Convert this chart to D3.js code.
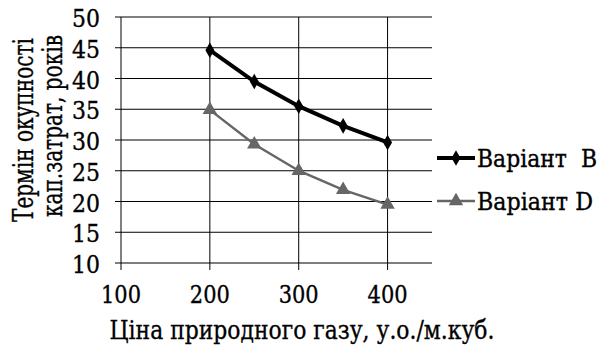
<!DOCTYPE html>
<html>
<head>
<meta charset="utf-8">
<script src="https://cdn.jsdelivr.net/npm/d3@7"></script>
<style>
  body { margin: 0; background: #fff; }
  text { stroke: #000; stroke-width: 0.35px; }
</style>
</head>
<body>
<svg width="598" height="347"></svg>
<script>
// gas price, y.o. per cubic metre
var prices = [200, 250, 300, 350, 400];
var variantB = [44.6, 39.5, 35.5, 32.3, 29.6];
var variantD = [34.9, 29.3, 25.0, 21.9, 19.5];
var xTicks = [100, 200, 300, 400];
var yTicks = [10, 15, 20, 25, 30, 35, 40, 45, 50];
var seriesNames = ["Варіант  B", "Варіант D"];

// DejaVu Serif is wider than the Times face of the original, so texts get squeezed
var svg = d3.select("svg")
    .attr("font-family", "'DejaVu Serif', serif");
var pLeft = 121, pRight = 432, pTop = 17, pBottom = 263;

var x = d3.scaleLinear().domain([100, 450]).range([pLeft, pRight]);
var y = d3.scaleLinear().domain([10, 50]).range([pBottom, pTop]);

// horizontal grid with little ticks on the left
svg.append("g").selectAll("line").data(yTicks).enter().append("line")
    .attr("x1", pLeft - 6).attr("x2", pRight)
    .attr("y1", function(d) { return y(d); })
    .attr("y2", function(d) { return y(d); })
    .style("stroke", "#000").style("stroke-width", 1);

// vertical grid, sticking out a bit below the axis
svg.append("g").selectAll("line").data(xTicks).enter().append("line")
    .attr("x1", function(d) { return x(d); })
    .attr("x2", function(d) { return x(d); })
    .attr("y1", pTop).attr("y2", pBottom + 7)
    .style("stroke", "#000").style("stroke-width", 1);

svg.append("g").selectAll("text").data(yTicks).enter().append("text")
    .attr("x", pLeft - 21).attr("y", function(d) { return y(d) + 10; })
    .attr("textLength", function(d) { return String(d).length * 14; })
    .attr("lengthAdjust", "spacingAndGlyphs")
    .style("text-anchor", "end").style("font-size", "25px")
    .text(function(d) { return d; });

svg.append("g").selectAll("text").data(xTicks).enter().append("text")
    .attr("x", function(d) { return x(d); }).attr("y", 303)
    .attr("textLength", 40)
    .attr("lengthAdjust", "spacingAndGlyphs")
    .style("text-anchor", "middle").style("font-size", "25px")
    .text(function(d) { return d; });

// axis titles
svg.append("text")
    .attr("transform", "translate(33,130) rotate(-90)")
    .attr("textLength", 184).attr("lengthAdjust", "spacingAndGlyphs")
    .style("text-anchor", "middle").style("font-size", "27px")
    .text("Термін окупності");
svg.append("text")
    .attr("transform", "translate(62,126) rotate(-90)")
    .attr("textLength", 182).attr("lengthAdjust", "spacingAndGlyphs")
    .style("text-anchor", "middle").style("font-size", "27px")
    .text("кап.затрат, років");
svg.append("text")
    .attr("x", 302).attr("y", 339)
    .attr("textLength", 385).attr("lengthAdjust", "spacingAndGlyphs")
    .style("text-anchor", "middle").style("font-size", "26px")
    .text("Ціна природного газу, у.о./м.куб.");

var line = d3.line()
    .x(function(d) { return x(d[0]); })
    .y(function(d) { return y(d[1]); });

var series = [
  { name: seriesNames[0], values: d3.zip(prices, variantB), color: "#000", width: 4,
    symbol: d3.symbolDiamond, size: 70, textW: 120 },
  { name: seriesNames[1], values: d3.zip(prices, variantD), color: "#666", width: 2.5,
    symbol: d3.symbolTriangle, size: 90, textW: 116 }
];

series.forEach(function(s, i) {
  svg.append("path")
      .attr("d", line(s.values))
      .style("fill", "none").style("stroke", s.color).style("stroke-width", s.width);
  svg.append("g").selectAll("path").data(s.values).enter().append("path")
      .attr("d", d3.symbol().type(s.symbol).size(s.size))
      .attr("transform", function(d) { return "translate(" + x(d[0]) + "," + y(d[1]) + ")"; })
      .style("fill", s.color);

  // legend
  var ly = 158 + i * 43;
  svg.append("line")
      .attr("x1", 437).attr("x2", 475).attr("y1", ly).attr("y2", ly)
      .style("stroke", s.color).style("stroke-width", s.width);
  svg.append("path")
      .attr("d", d3.symbol().type(s.symbol).size(s.size))
      .attr("transform", "translate(456," + ly + ")")
      .style("fill", s.color);
  svg.append("text")
      .attr("x", 477).attr("y", ly + 9)
      .attr("textLength", s.textW).attr("lengthAdjust", "spacingAndGlyphs")
      .style("font-size", "24px").style("white-space", "pre")
      .text(s.name);
});
</script>
</body>
</html>
